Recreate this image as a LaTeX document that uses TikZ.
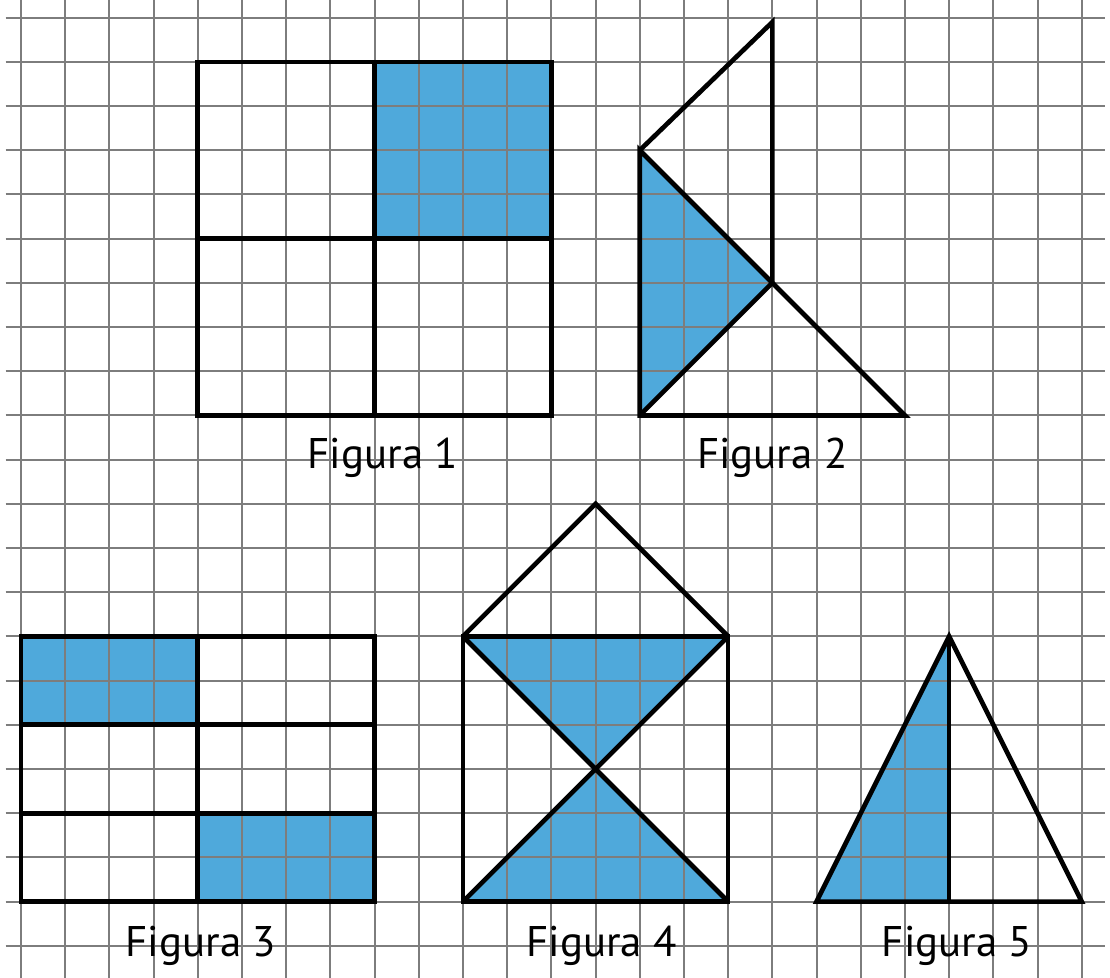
\documentclass[tikz,border=0pt]{standalone}
\usepackage{fontspec}
\setmainfont{PT Sans}
\usepackage{xcolor}
\usetikzlibrary{positioning}

\definecolor{figblue}{RGB}{79,169,219}
\definecolor{gridgray}{RGB}{125,125,125}

\begin{document}
\begin{tikzpicture}[x=1cm, y=1cm,
        gridline/.style={draw=gridgray, line width=1.3pt},
        outline/.style={draw=black, line width=3pt},
        shaded/.style={fill=figblue},
        caption/.style={anchor=base, inner sep=0pt, font=\fontsize{27.6}{30}\selectfont}]
    \useasboundingbox (-0.475,-0.724) rectangle (24.64,21.40);

    % corners of the figures
    \coordinate (f2apex) at (17,20.9);
    \coordinate (f2top) at (14,18);
    \coordinate (f2mid) at (17,15);
    \coordinate (f2bl) at (14,12);
    \coordinate (f2br) at (20,12);
    \coordinate (f4apex) at (13,10);
    \coordinate (f4mid) at (13,4);
    \coordinate (f5apex) at (21,7);

    % shaded parts
    \fill[shaded] (8,16) rectangle (12,20);
    \fill[shaded] (f2top) -- (f2mid) -- (f2bl) -- cycle;
    \fill[shaded] (0,5) rectangle (4,7);
    \fill[shaded] (4,1) rectangle (8,3);
    \fill[shaded] (10,7) -- (16,7) -- (f4mid) -- cycle;
    \fill[shaded] (10,1) -- (16,1) -- (f4mid) -- cycle;
    \fill[shaded] (18,1) -- (f5apex) -- (21,1) -- cycle;

    % squared paper
    \foreach \x in {0,...,24}
        \draw[gridline] (\x,-0.724) -- (\x,21.40);
    \foreach \y in {0,...,21}
        \draw[gridline] (-0.35,\y) -- (24.52,\y);

    % Figura 1
    \draw[outline] (4,12) rectangle (12,20);
    \draw[outline] (8,12) -- (8,20) (4,16) -- (12,16);

    % Figura 2
    \draw[outline] (f2top) -- (f2bl) -- (f2br) -- cycle;
    \draw[outline] (f2top) -- (f2apex) -- (f2mid);
    \draw[outline] (f2bl) -- (f2mid);

    % Figura 3
    \draw[outline] (0,1) rectangle (8,7);
    \draw[outline] (4,1) -- (4,7) (0,3) -- (8,3) (0,5) -- (8,5);

    % Figura 4
    \draw[outline] (10,1) rectangle (16,7);
    \draw[outline] (10,7) -- (f4apex) -- (16,7);
    \draw[outline] (10,7) -- (16,1) (16,7) -- (10,1);

    % Figura 5
    \draw[outline] (18,1) -- (f5apex) -- (24,1) -- cycle;
    \draw[outline] (f5apex) -- (21,1);

    \node[caption] (cap1) at (8.19,10.81) {Figura 1};
    \node[caption] (cap2) at (17,10.81) {Figura 2};
    \node[caption] (cap3) at (4.07,-0.25) {Figura 3};
    \node[caption] (cap4) at (13.14,-0.25) {Figura 4};
    \node[caption] (cap5) at (21.18,-0.25) {Figura 5};
\end{tikzpicture}
\end{document}
